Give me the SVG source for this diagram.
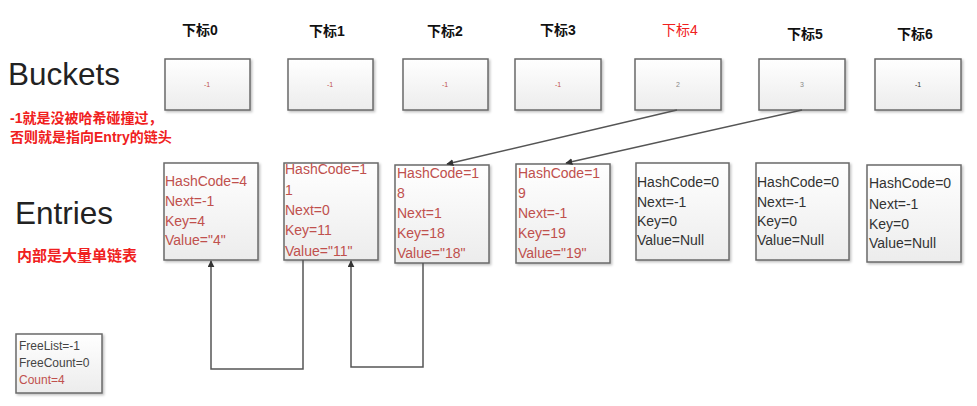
<svg xmlns="http://www.w3.org/2000/svg" width="977" height="406" viewBox="0 0 977 406">
<style>
.box{fill:url(#g);stroke:#6a6a6a;stroke-width:1.5;filter:url(#ds)}
.idx{font-family:"Liberation Sans","Noto Sans CJK SC",sans-serif;font-size:14px;font-weight:bold;fill:#111}
.big{font-family:"Liberation Sans",sans-serif;font-size:31.5px;fill:#222}
.note{font-family:"Liberation Sans","Noto Sans CJK SC",sans-serif;font-size:14px;font-weight:bold;fill:#f02020}
.num{font-family:"Liberation Sans",sans-serif;font-size:7px;text-anchor:middle}
.et{font-family:"Liberation Sans",sans-serif;font-size:14px;fill:#c0504d}
.ek{font-family:"Liberation Sans",sans-serif;font-size:14px;fill:#333}
.fl{font-family:"Liberation Sans",sans-serif;font-size:12px;fill:#444}
.con{fill:none;stroke:#555;stroke-width:1.5}
</style>
<defs>
<linearGradient id="g" x1="0" y1="0" x2="0" y2="1">
<stop offset="0" stop-color="#ffffff"/>
<stop offset="1" stop-color="#ececec"/>
</linearGradient>
<filter id="ds" x="-5%" y="-5%" width="115%" height="115%">
<feDropShadow dx="1.5" dy="1.5" stdDeviation="0.8" flood-color="#000" flood-opacity="0.25"/>
</filter>
<marker id="ah" viewBox="0 0 10 10" refX="9" refY="5" markerWidth="7" markerHeight="7" markerUnits="userSpaceOnUse" orient="auto">
<path d="M0,0 L10,5 L0,10 z" fill="#333"/>
</marker>
</defs>
<rect width="977" height="406" fill="#fff"/>

<text class="big" x="8" y="85">Buckets</text>
<text class="note" x="10" y="123">-1就是没被哈希碰撞过，</text>
<text class="note" x="10" y="142">否则就是指向Entry的链头</text>
<text class="big" x="15" y="224">Entries</text>
<text class="note" x="17" y="261" style="font-size:15px">内部是大量单链表</text>

<text class="idx" x="200" y="35" text-anchor="middle">下标0</text>
<text class="idx" x="327" y="36" text-anchor="middle">下标1</text>
<text class="idx" x="445" y="36" text-anchor="middle">下标2</text>
<text class="idx" x="558" y="35" text-anchor="middle">下标3</text>
<text class="idx" x="680" y="35" text-anchor="middle" style="fill:#f02020;font-weight:normal">下标4</text>
<text class="idx" x="805" y="39" text-anchor="middle">下标5</text>
<text class="idx" x="915" y="39" text-anchor="middle">下标6</text>

<g id="bucket0"><rect class="box" x="165" y="59" width="85" height="51"/><text class="num" x="207" y="87" fill="#c0504d">-1</text></g>
<g id="bucket1"><rect class="box" x="288" y="59" width="85" height="51"/><text class="num" x="330" y="87" fill="#c0504d">-1</text></g>
<g id="bucket2"><rect class="box" x="403" y="59" width="85" height="51"/><text class="num" x="445" y="87" fill="#c0504d">-1</text></g>
<g id="bucket3"><rect class="box" x="515" y="59" width="86" height="51"/><text class="num" x="558" y="87" fill="#c0504d">-1</text></g>
<g id="bucket4"><rect class="box" x="635" y="59" width="86" height="51"/><text class="num" x="678" y="87" fill="#888">2</text></g>
<g id="bucket5"><rect class="box" x="759" y="59" width="86" height="51"/><text class="num" x="802" y="87" fill="#888">3</text></g>
<g id="bucket6"><rect class="box" x="875" y="59" width="86" height="51"/><text class="num" x="918" y="87" fill="#333">-1</text></g>

<g id="entry0"><rect class="box" x="164" y="163" width="94" height="97"/>
<text class="et" x="165" y="186">HashCode=4</text><text class="et" x="165" y="206">Next=-1</text><text class="et" x="165" y="226">Key=4</text><text class="et" x="165" y="245">Value="4"</text></g>
<g id="entry1"><rect class="box" x="284" y="163" width="94" height="97"/>
<text class="et" x="285" y="174">HashCode=1</text><text class="et" x="285" y="195">1</text><text class="et" x="285" y="215">Next=0</text><text class="et" x="285" y="235">Key=11</text><text class="et" x="285" y="256">Value="11"</text></g>
<g id="entry2"><rect class="box" x="395" y="165" width="94" height="98"/>
<text class="et" x="397" y="178">HashCode=1</text><text class="et" x="397" y="198">8</text><text class="et" x="397" y="218">Next=1</text><text class="et" x="397" y="238">Key=18</text><text class="et" x="397" y="258">Value="18"</text></g>
<g id="entry3"><rect class="box" x="516" y="164" width="94" height="99"/>
<text class="et" x="518" y="178">HashCode=1</text><text class="et" x="518" y="198">9</text><text class="et" x="518" y="218">Next=-1</text><text class="et" x="518" y="238">Key=19</text><text class="et" x="518" y="258">Value="19"</text></g>
<g id="entry4"><rect class="box" x="636" y="163" width="93" height="97"/>
<text class="ek" x="637" y="187">HashCode=0</text><text class="ek" x="637" y="207">Next=-1</text><text class="ek" x="637" y="226">Key=0</text><text class="ek" x="637" y="245">Value=Null</text></g>
<g id="entry5"><rect class="box" x="756" y="163" width="93" height="97"/>
<text class="ek" x="757" y="187">HashCode=0</text><text class="ek" x="757" y="207">Next=-1</text><text class="ek" x="757" y="226">Key=0</text><text class="ek" x="757" y="245">Value=Null</text></g>
<g id="entry6"><rect class="box" x="867" y="165" width="94" height="97"/>
<text class="ek" x="869" y="188">HashCode=0</text><text class="ek" x="869" y="209">Next=-1</text><text class="ek" x="869" y="229">Key=0</text><text class="ek" x="869" y="248">Value=Null</text></g>

<g id="counters"><rect class="box" x="16" y="334" width="86" height="59"/>
<text class="fl" x="19" y="350">FreeList=-1</text><text class="fl" x="19" y="367">FreeCount=0</text><text class="fl" x="19" y="384" style="fill:#c0504d">Count=4</text></g>

<g id="connectors">
<path class="con" d="M677 110 L447 164" marker-end="url(#ah)"/>
<path class="con" d="M802 110 L566 163" marker-end="url(#ah)"/>
<path class="con" d="M303 260 V369 H211 V261" marker-end="url(#ah)"/>
<path class="con" d="M423 263 V367 H351 V261" marker-end="url(#ah)"/>
</g>
</svg>
